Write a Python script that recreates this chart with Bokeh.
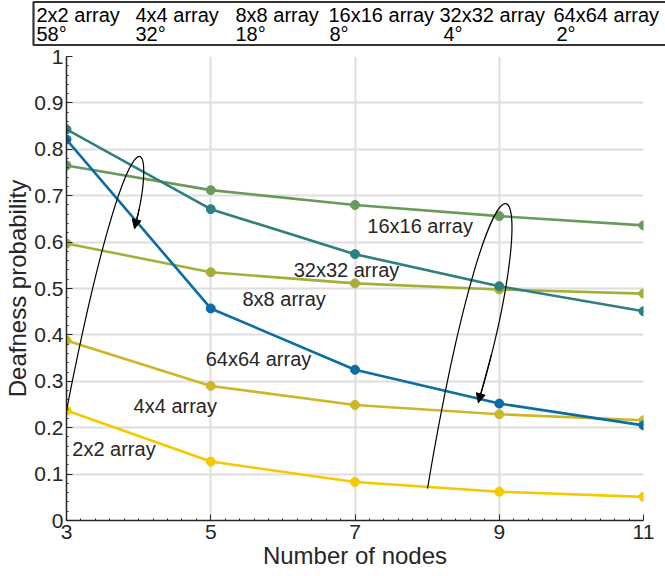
import numpy as np
from bokeh.plotting import figure
from bokeh.layouts import column
from bokeh.models import Label, Arrow, NormalHead, FixedTicker, Range1d
from bokeh.embed import file_html
from bokeh.resources import INLINE

# ---------------- data ----------------
nodes = [3, 5, 7, 9, 11]
series_names = ["2x2 array", "4x4 array", "8x8 array", "16x16 array", "32x32 array", "64x64 array"]
angles = ["58°", "32°", "18°", "8°", "4°", "2°"]
p_2x2 = [0.237, 0.127, 0.083, 0.062, 0.051]
p_4x4 = [0.388, 0.290, 0.249, 0.229, 0.216]
p_8x8 = [0.597, 0.535, 0.511, 0.498, 0.489]
p_16x16 = [0.765, 0.712, 0.680, 0.656, 0.636]
p_32x32 = [0.843, 0.671, 0.574, 0.505, 0.451]
p_64x64 = [0.821, 0.457, 0.325, 0.252, 0.205]
series_values = [p_2x2, p_4x4, p_8x8, p_16x16, p_32x32, p_64x64]
colors = ["#F7C800", "#CBB728", "#A5AF38", "#6A9A5B", "#2F7F7E", "#0A6DA3"]
y_ticks = [0, 0.1, 0.2, 0.3, 0.4, 0.5, 0.6, 0.7, 0.8, 0.9, 1.0]
y_tick_labels = {0: "0", 0.1: "0.1", 0.2: "0.2", 0.3: "0.3", 0.4: "0.4", 0.5: "0.5",
                 0.6: "0.6", 0.7: "0.7", 0.8: "0.8", 0.9: "0.9", 1.0: "1"}

# in-plot series labels (data coords, left-aligned)
label_x = [3.08, 3.93, 5.44, 7.17, 6.15, 4.93]
label_y = [0.155, 0.246, 0.478, 0.634, 0.539, 0.349]

# header text positions (header pixel space)
head_x1 = [36, 135, 235, 328, 439, 553]
head_x2 = [36, 135, 235, 329, 443, 556]
box_x = [700, 33, 33, 700]
box_y = [44.5, 44.5, 1.5, 1.5]

FONT = "Liberation Sans"
TXT = "#262626"

# ---------------- header strip ----------------
h = figure(width=665, height=46, output_backend="svg", toolbar_location=None,
           x_range=Range1d(0, 665), y_range=Range1d(0, 46),
           x_axis_type=None, y_axis_type=None,
           min_border_left=0, min_border_right=0, min_border_top=0, min_border_bottom=0)
h.frame_align = False
h.outline_line_color = None
h.xgrid.visible = False
h.ygrid.visible = False
h.line(box_x, box_y, line_color="#333333", line_width=2.2)
for name, ang, hx1, hx2 in zip(series_names, angles, head_x1, head_x2):
    h.add_layout(Label(x=hx1, y=32, text=name, text_font=FONT, text_font_size="20px",
                       text_color="black", text_baseline="middle", text_align="left"))
    h.add_layout(Label(x=hx2, y=13, text=ang, text_font=FONT, text_font_size="20px",
                       text_color="black", text_baseline="middle", text_align="left"))

# ---------------- main plot ----------------
p = figure(width=665, height=530, output_backend="svg", toolbar_location=None,
           x_range=Range1d(3, 11), y_range=Range1d(0, 1),
           min_border_left=66, min_border_right=22, min_border_top=10, min_border_bottom=56)
p.outline_line_color = None
p.background_fill_color = "white"

p.xgrid.ticker = FixedTicker(ticks=nodes)
p.ygrid.ticker = FixedTicker(ticks=y_ticks)
for g in (p.xgrid, p.ygrid):
    g.grid_line_color = "#DEDEDE"
    g.grid_line_width = 2

p.xaxis.ticker = FixedTicker(ticks=nodes, minor_ticks=list(np.arange(3, 11.001, 0.2)))
p.yaxis.ticker = FixedTicker(ticks=y_ticks, minor_ticks=list(np.arange(0, 1.001, 0.02)))
p.yaxis.major_label_overrides = y_tick_labels
for ax in (p.xaxis, p.yaxis):
    ax.axis_line_color = "#262626"
    ax.axis_line_width = 1.5
    ax.major_tick_in = 6
    ax.major_tick_out = 0
    ax.minor_tick_in = 2
    ax.minor_tick_out = 0
    ax.major_tick_line_color = "#262626"
    ax.minor_tick_line_color = "#262626"
    ax.major_label_text_font = FONT
    ax.major_label_text_font_size = "21px"
    ax.major_label_text_color = TXT
    ax.axis_label_text_font = FONT
    ax.axis_label_text_font_style = "normal"
    ax.axis_label_text_color = TXT
    ax.axis_label_text_font_size = "24px"
p.xaxis.axis_label = "Number of nodes"
p.yaxis.axis_label = "Deafness probability"
p.xaxis.major_label_standoff = 4
p.xaxis.axis_label_standoff = 0
p.yaxis.major_label_standoff = 3
p.yaxis.axis_label_standoff = 0

for vals, c in zip(series_values, colors):
    p.line(nodes, vals, line_color=c, line_width=2.6)
    p.scatter(nodes, vals, size=9, fill_color=c, line_color=c)

for name, lx, ly in zip(series_names, label_x, label_y):
    p.add_layout(Label(x=lx, y=ly, text=name, text_font=FONT, text_font_size="20px",
                       text_color=TXT, text_baseline="middle", text_align="left"))

# curved arrows (cubic bezier, data coords)
arrow_curves = [
    [(3.0, 0.237), (3.887, 0.944), (4.30, 0.837), (3.943, 0.629)],
    [(8.005, 0.069), (8.947, 0.937), (9.70, 0.776), (8.71, 0.254)],
]
for pts in arrow_curves:
    (x0, y0), (x1, y1), (x2, y2), (x3, y3) = pts
    p.bezier(x0=[x0], y0=[y0], cx0=[x1], cy0=[y1], cx1=[x2], cy1=[y2], x1=[x3], y1=[y3],
             line_color="black", line_width=1.2)
    t = 0.93
    bx = (1-t)**3*x0 + 3*(1-t)**2*t*x1 + 3*(1-t)*t**2*x2 + t**3*x3
    by = (1-t)**3*y0 + 3*(1-t)**2*t*y1 + 3*(1-t)*t**2*y2 + t**3*y3
    p.add_layout(Arrow(end=NormalHead(size=9, fill_color="black", line_color="black", line_width=1),
                       x_start=bx, y_start=by, x_end=x3, y_end=y3, line_color="black", line_width=1.2))

layout = column(h, p, spacing=0)
open("out.html", "w").write(file_html(layout, INLINE))
